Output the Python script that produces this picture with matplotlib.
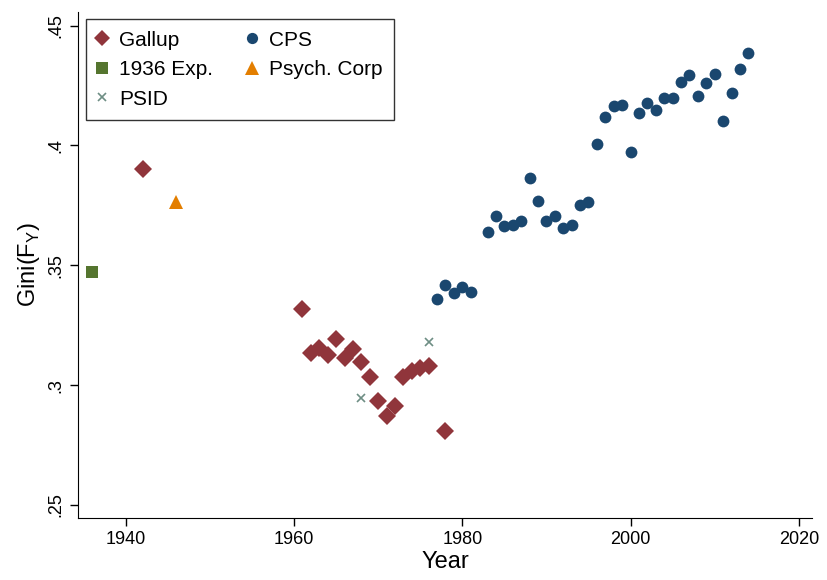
import matplotlib
matplotlib.use('Agg')
from matplotlib import pyplot as plt

plt.rcParams['font.family'] = ['Liberation Sans', 'DejaVu Sans']
plt.rcParams['mathtext.fontset'] = 'custom'
plt.rcParams['mathtext.rm'] = 'Liberation Sans'

# data
gallup_year = [1942, 1961, 1962, 1963, 1964, 1965, 1966, 1967, 1968, 1969,
               1970, 1971, 1972, 1973, 1974, 1975, 1976, 1978]
gallup_gini = [0.3903, 0.3319, 0.3136, 0.3155, 0.3127, 0.3193, 0.3115,
               0.3150, 0.3096, 0.3033, 0.2933, 0.2872, 0.2911, 0.3032,
               0.3061, 0.3071, 0.3081, 0.2810]

exp_year = [1936]
exp_gini = [0.3473]

psid_year = [1968, 1976]
psid_gini = [0.2946, 0.3181]

cps_year = [1977, 1978, 1979, 1980, 1981, 1983, 1984, 1985, 1986, 1987,
            1988, 1989, 1990, 1991, 1992, 1993, 1994, 1995, 1996, 1997,
            1998, 1999, 2000, 2001, 2002, 2003, 2004, 2005, 2006, 2007,
            2008, 2009, 2010, 2011, 2012, 2013, 2014]
cps_gini = [0.3359, 0.3416, 0.3384, 0.3409, 0.3390, 0.3640, 0.3704, 0.3663,
            0.3667, 0.3683, 0.3863, 0.3767, 0.3686, 0.3704, 0.3657, 0.3668,
            0.3750, 0.3766, 0.4005, 0.4117, 0.4163, 0.4167, 0.3972, 0.4135,
            0.4176, 0.4146, 0.4199, 0.4199, 0.4263, 0.4295, 0.4206, 0.4260,
            0.4300, 0.4100, 0.4220, 0.4320, 0.4385]

psych_year = [1946]
psych_gini = [0.3766]

x_ticks = [1940, 1960, 1980, 2000, 2020]
y_ticks = [0.25, 0.30, 0.35, 0.40, 0.45]
y_labels = ['.25', '.3', '.35', '.4', '.45']

fig = plt.figure(figsize=(8.28, 5.8), dpi=100)
ax = fig.add_axes([0.094, 0.107, 0.887, 0.872])

h1, = ax.plot(gallup_year, gallup_gini, 'D', color='#90353b', ms=9,
              mew=0, label='Gallup')
h2, = ax.plot(exp_year, exp_gini, 's', color='#55752f', ms=8.5,
              mew=0, label='1936 Exp.')
h3, = ax.plot(psid_year, psid_gini, 'x', color='#6e8e84', ms=5.5,
              mew=1.2, label='PSID')
h4, = ax.plot(cps_year, cps_gini, 'o', color='#1a476f', ms=8.5,
              mew=0, label='CPS')
h5, = ax.plot(psych_year, psych_gini, '^', color='#e37e00', ms=10,
              mew=0, label='Psych. Corp')

ax.set_xlim(1934.3, 2021.6)
ax.set_ylim(0.2446, 0.4556)
ax.set_xticks(x_ticks)
ax.set_yticks(y_ticks)
ax.set_yticklabels(y_labels, rotation=90, va='center')
ax.tick_params(axis='both', labelsize=13, length=6, width=1, direction='out')
ax.spines['top'].set_visible(False)
ax.spines['right'].set_visible(False)
ax.set_xlabel('Year', fontsize=17, labelpad=2)
ax.set_ylabel('Gini(F$_\\mathrm{Y}$)', fontsize=17, labelpad=4)

leg = ax.legend(handles=[h1, h2, h3, h4, h5], ncol=2, loc='upper left',
                bbox_to_anchor=(0.011, 0.986), fontsize=15, frameon=True,
                fancybox=False, edgecolor='black', handlelength=0.44,
                handletextpad=0.6, columnspacing=1.65, borderpad=0.55,
                labelspacing=0.5, markerscale=0.95, borderaxespad=0)
leg.get_frame().set_linewidth(1)

fig.savefig('out.png', dpi=100)
